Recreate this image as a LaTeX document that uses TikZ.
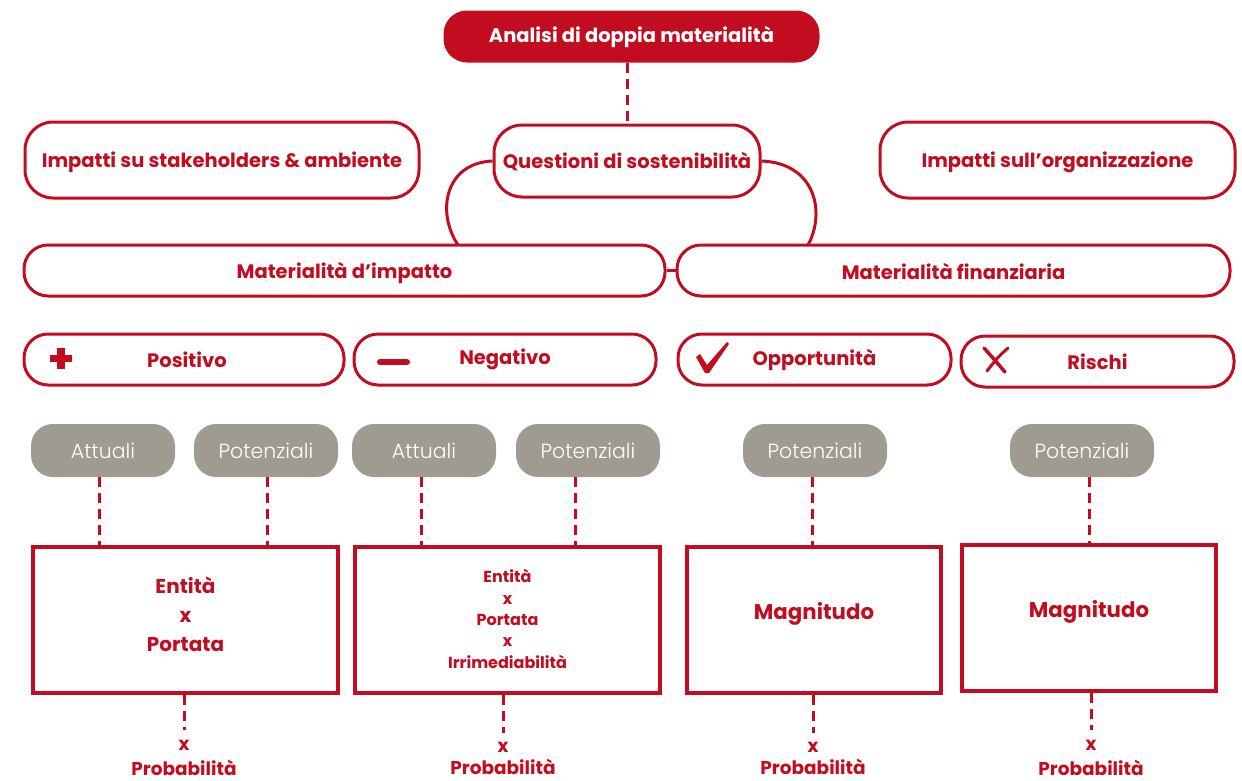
\documentclass[tikz,border=0pt]{standalone}
\usepackage{fontspec}
\setmainfont{Poppins}
\newfontfamily\poplight{Poppins Light}
\definecolor{dmred}{HTML}{C20D21}
\definecolor{dmgray}{HTML}{A09B90}
\newcommand{\lowerby}[2]{\raisebox{-#1}[\height][\depth]{#2}}
\tikzset{
  redbox/.style={draw=dmred, line width=3pt, rounded corners=28pt, fill=white, text=dmred,
    font=\fontsize{19.5}{23}\selectfont\bfseries, align=center, inner sep=0pt},
  pill/.style={fill=dmgray, rounded corners=22pt, text=white, minimum width=144pt, minimum height=53pt,
    font=\fontsize{20.5}{24}\selectfont\poplight, inner sep=0pt},
  sqbox/.style={draw=dmred, line width=4pt, fill=white, inner sep=0pt},
  boxtext/.style={text=dmred, align=center, inner sep=0pt},
  dashline/.style={draw=dmred, line width=3pt, dash pattern=on 10pt off 6pt},
  solidline/.style={draw=dmred, line width=3pt},
  redtext/.style={text=dmred, font=\fontsize{18.5}{22}\selectfont\bfseries, inner sep=0pt, align=center},
}
\begin{document}
\begin{tikzpicture}[x=1pt,y=-1pt]
\useasboundingbox (0,0) rectangle (1242,780);
\clip (0,0) rectangle (1242,780);
% top
\node[redbox, fill=dmred, text=white, rounded corners=22pt, minimum width=373pt, minimum height=49pt] (anal) at (631.5,36.5) {Analisi di doppia materialità};
\node[redbox, minimum width=394pt, minimum height=76pt] (stake) at (222,160) {\lowerby{2pt}{Impatti su stakeholders \& ambiente}};
\node[redbox, minimum width=266pt, minimum height=72pt] (quest) at (627,161) {\lowerby{1pt}{Questioni di sostenibilità}};
\node[redbox, minimum width=355pt, minimum height=76pt] (org) at (1057.5,160) {\lowerby{2pt}{Impatti sull’organizzazione}};
\node[redbox, rounded corners=24pt, minimum width=641pt, minimum height=51pt] (mimp) at (344.5,270.5) {\lowerby{2pt}{Materialità d’impatto}};
\node[redbox, rounded corners=24pt, minimum width=553pt, minimum height=51pt] (mfin) at (953.5,270.5) {\lowerby{1pt}{Materialità finanziaria}};
\draw[dashline] (anal.south -| quest.north) -- (quest.north);
\coordinate (al) at (458,245);
\coordinate (ar) at (808,245);
\draw[solidline] (quest.west) .. controls (445,163) and (436,212) .. (al);
\draw[solidline] (quest.east) .. controls (815,163) and (826,212) .. (ar);
\draw[solidline] (mimp.east) -- (mfin.west);
% category row
\node[redbox, rounded corners=24pt, minimum width=320pt, minimum height=51pt] (pos) at (184,359.5) {\hspace*{6pt}Positivo};
\node[redbox, rounded corners=24pt, minimum width=302pt, minimum height=51pt] (neg) at (505,359.5) {Negativo};
\node[redbox, rounded corners=24pt, minimum width=273pt, minimum height=51pt] (opp) at (814.5,359.5) {Opportunità};
\node[redbox, rounded corners=24pt, minimum width=273pt, minimum height=51pt] (ris) at (1097.5,361.5) {Rischi};
% icons
\fill[dmred] (57,348) rectangle (65,369);
\fill[dmred] (50,355) rectangle (72,362);
\draw[dmred, line width=6pt, line cap=round] (380,362) -- (407,362);
\fill[dmred] (696,357) -- (700,354) -- (707,365) -- (727,342) -- (729,344) -- (709,373) -- (705,373) -- cycle;
\draw[dmred, line width=3.5pt, line cap=round] (984,348) .. controls (993,358) .. (1005,372);
\draw[dmred, line width=3pt, line cap=round] (1008,348) .. controls (998,357) .. (987,371);
% pills
\node[pill] (p1) at (103,450.5) {Attuali};
\node[pill] (p2) at (266,450.5) {Potenziali};
\node[pill] (p3) at (424,450.5) {Attuali};
\node[pill] (p4) at (588,450.5) {Potenziali};
\node[pill] (p5) at (815,450.5) {Potenziali};
\node[pill] (p6) at (1082,450.5) {Potenziali};
% boxes
\node[sqbox, minimum width=305pt, minimum height=146pt] (b1) at (185.5,620) {};
\node[sqbox, minimum width=305pt, minimum height=146pt] (b2) at (507.5,620) {};
\node[sqbox, minimum width=254pt, minimum height=146pt] (b3) at (814,620) {};
\node[sqbox, minimum width=254pt, minimum height=146pt] (b4) at (1089,618) {};
\node[boxtext, font=\fontsize{20}{29}\selectfont\bfseries] (t1) at ([yshift=6pt]b1.center) {Entità\\x\\Portata};
\node[boxtext, font=\fontsize{16}{21.3}\selectfont\bfseries] (t2) at ([yshift=1pt]b2.center) {Entità\\x\\Portata\\x\\Irrimediabilità};
\node[boxtext, font=\fontsize{21.3}{24}\selectfont\bfseries] (t3) at ([yshift=6pt]b3.center) {Magnitudo};
\node[boxtext, font=\fontsize{21.3}{24}\selectfont\bfseries] (t4) at ([yshift=6pt]b4.center) {Magnitudo};
% dashed from pills
\draw[dashline] ([xshift=-4pt]p1.south) -- ([xshift=-4pt]p1.south |- b1.north);
\draw[dashline] ([xshift=1pt]p2.south) -- ([xshift=1pt]p2.south |- b1.north);
\draw[dashline] ([xshift=-3pt]p3.south) -- ([xshift=-3pt]p3.south |- b2.north);
\draw[dashline] ([xshift=-13pt]p4.south) -- ([xshift=-13pt]p4.south |- b2.north);
\draw[dashline] ([xshift=-3pt]p5.south) -- ([xshift=-3pt]p5.south |- b3.north);
\draw[dashline] ([xshift=7pt]p6.south) -- ([xshift=7pt]p6.south |- b4.north);
% below
\node[redtext] (x1) at (184,745) {x};
\node[redtext] (q1) at (184,768) {Probabilità};
\node[redtext] (x2) at (503,747) {x};
\node[redtext] (q2) at (503,767) {Probabilità};
\node[redtext] (x3) at (813,747) {x};
\node[redtext] (q3) at (813,767) {Probabilità};
\node[redtext] (x4) at (1091,745) {x};
\node[redtext] (q4) at (1091,768) {Probabilità};
\draw[dashline, shorten >=10pt] (b1.south -| x1) -- (x1.north);
\draw[dashline, shorten >=9pt] (b2.south -| x2) -- (x2.north);
\draw[dashline, shorten >=9pt] (b3.south -| x3) -- (x3.north);
\draw[dashline, shorten >=10pt] (b4.south -| x4) -- (x4.north);
\end{tikzpicture}
\end{document}
